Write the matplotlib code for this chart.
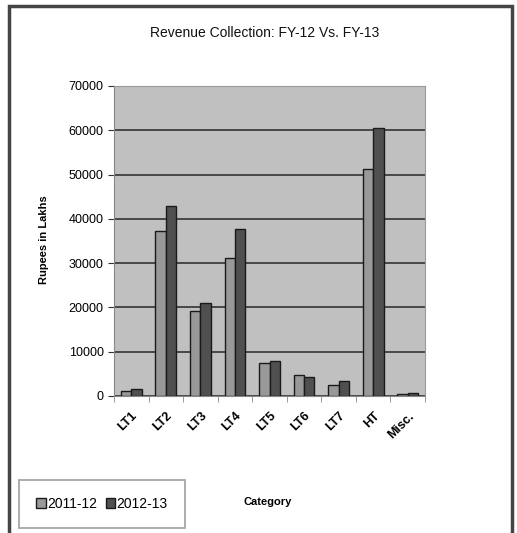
import numpy as np
import matplotlib.pyplot as plt
from matplotlib.patches import Rectangle

plt.rcParams['font.family'] = ['Liberation Sans', 'DejaVu Sans']

# revenue by category, Rupees in Lakhs
categories = ['LT1', 'LT2', 'LT3', 'LT4', 'LT5', 'LT6', 'LT7', 'HT', 'Misc.']
fy12 = [1100, 37300, 19200, 31200, 7400, 4700, 2500, 51300, 500]
fy13 = [1500, 42900, 21100, 37600, 7900, 4400, 3400, 60500, 600]

fig = plt.figure(figsize=(5.17, 5.33), dpi=100)
ax = fig.add_axes([114/517, 1-396/533, 311/517, 310/533])

x = np.arange(len(categories))
w = 0.3
b1 = ax.bar(x - w/2, fy12, w, color='#999999', edgecolor='#1a1a1a', linewidth=1.0, label='2011-12', zorder=3)
b2 = ax.bar(x + w/2, fy13, w, color='#505050', edgecolor='#1a1a1a', linewidth=1.0, label='2012-13', zorder=3)

ax.set_facecolor('#c0c0c0')
ax.set_xlim(-0.5, len(categories) - 0.5)
ax.set_ylim(0, 70000)
ax.set_yticks(np.arange(0, 70001, 10000))
ax.set_yticklabels([str(v) for v in range(0, 70001, 10000)], fontsize=9)
ax.yaxis.grid(True, color='#333333', linewidth=1.2, zorder=1)
ax.set_xticks(x)
ax.set_xticklabels(categories, rotation=45, ha='right', rotation_mode='anchor',
                   fontsize=9, fontweight='bold')
ax.tick_params(axis='x', length=0, pad=10)
ax.set_xticks(np.arange(-0.5, len(categories), 1), minor=True)
ax.tick_params(axis='x', which='minor', length=4, color='#888888')
ax.tick_params(axis='y', length=4, color='#333333')
for s in ['top', 'right']:
    ax.spines[s].set_color('#999999')
for s in ['left', 'bottom']:
    ax.spines[s].set_color('#888888')

fig.text(265/517, 1-33/533, 'Revenue Collection: FY-12 Vs. FY-13', ha='center', va='center',
         fontsize=10, color='#111111')
fig.text(44/517, 1-240/533, 'Rupees in Lakhs', rotation=90, ha='center', va='center',
         fontsize=8, fontweight='bold')
fig.text(268/517, 1-502/533, 'Category', ha='center', va='center', fontsize=8, fontweight='bold')

leg = fig.legend(handles=[b1, b2], loc='center', bbox_to_anchor=(102/517, 1-504/533),
                 ncol=2, frameon=True, fancybox=False, fontsize=10, handlelength=0.7,
                 handleheight=0.7, handletextpad=0.1, columnspacing=0.6,
                 borderpad=1.2)
leg.get_frame().set_edgecolor('#888888')
leg.get_frame().set_linewidth(1.2)

# outer chart border
fig.patches.append(Rectangle((9/517, -0.02), 503/517, 1 - 6/533 + 0.02, transform=fig.transFigure,
                             fill=False, edgecolor='#444444', linewidth=2.5))

fig.savefig('out.png', dpi=100)
